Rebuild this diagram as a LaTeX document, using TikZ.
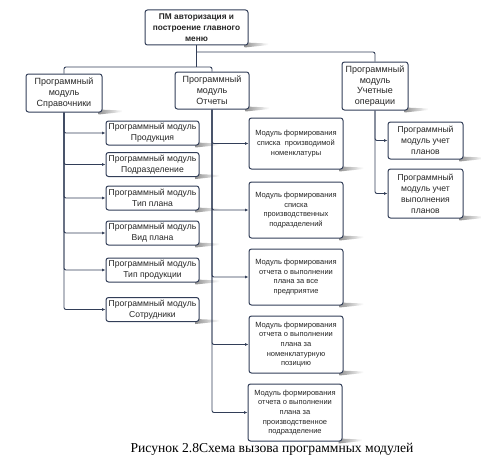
\documentclass[tikz,border=0pt]{standalone}
\usepackage{fontspec}
\setmainfont{Liberation Serif}
\setsansfont{Liberation Sans}
\usetikzlibrary{arrows.meta,backgrounds}
\definecolor{ln}{RGB}{50,62,88}
\begin{document}
\begin{tikzpicture}[x=1pt,y=-1pt,
 box/.style={draw=ln,line width=1pt,rounded corners=2.5pt,fill=white,align=center,inner sep=1pt,text=black!85},
 conn/.style={draw=ln,line width=0.9pt,rounded corners=2pt},
 arr/.style={conn,-{Latex[length=3.5pt,width=3pt]}},
 fL1/.style={font=\sffamily\fontsize{9}{10.8}\selectfont},
 fS/.style={font=\sffamily\fontsize{8.6}{10.7}\selectfont},
 fO/.style={font=\sffamily\fontsize{7.5}{9.7}\selectfont},
 fU/.style={font=\sffamily\fontsize{8.6}{11}\selectfont},
 shd/.style={left color=gray!85,right color=white,draw=none}
]
\useasboundingbox (0,0) rectangle (481,460);
% top
\node[box,minimum width=103pt,minimum height=35pt,font=\sffamily\bfseries\fontsize{8.3}{11.2}\selectfont] (top) at (196.5,27.5) {ПМ авторизация и\\построение главного\\меню};
% level 1
\node[box,fL1,minimum width=76pt,minimum height=38pt] (spr) at (64,93) {Программный\\модуль\\Справочники};
\node[box,fL1,minimum width=74pt,minimum height=37pt] (otch) at (212,90.5) {Программный\\модуль\\Отчеты};
\node[box,fL1,minimum width=66pt,minimum height=48pt] (uch) at (375,86) {Программный\\модуль\\Учетные\\операции};
% Spr children
\node[box,fS,minimum width=93pt,minimum height=24pt] (s1) at (152.5,133) {Программный модуль\\Продукция};
\node[box,fS,minimum width=93pt,minimum height=24pt] (s2) at (152.5,164.5) {Программный модуль\\Подразделение};
\node[box,fS,minimum width=93pt,minimum height=24pt] (s3) at (152.5,198) {Программный модуль\\Тип плана};
\node[box,fS,minimum width=93pt,minimum height=24pt] (s4) at (152.5,233) {Программный модуль\\Вид плана};
\node[box,fS,minimum width=93pt,minimum height=24pt] (s5) at (152.5,270) {Программный модуль\\Тип продукции};
\node[box,fS,minimum width=93pt,minimum height=24pt] (s6) at (152.5,309.5) {Программный модуль\\Сотрудники};
% Otch children
\node[box,fO,minimum width=94pt,minimum height=51pt] (o1) at (296,143.5) {Модуль формирования\\списка~ производимой\\номенклатуры};
\node[box,fO,minimum width=94pt,minimum height=56pt] (o2) at (296,210) {Модуль формирования\\списка\\производственных\\подразделений};
\node[box,fO,minimum width=94pt,minimum height=56pt] (o3) at (296,277) {Модуль формирования\\отчета о выполнении\\плана за все\\предприятие};
\node[box,fO,minimum width=94pt,minimum height=57pt] (o4) at (296,344.5) {Модуль формирования\\отчета о выполнении\\плана за\\номенклатурную\\позицию};
\node[box,fO,minimum width=94pt,minimum height=57pt] (o5) at (295,412.5) {Модуль формирования\\отчета о выполнении\\плана за\\производственное\\подразделение};
% Uch children
\node[box,fU,minimum width=75pt,minimum height=37pt] (u1) at (425.5,140.5) {Программный\\модуль учет\\планов};
\node[box,fU,minimum width=75pt,minimum height=49pt] (u2) at (425.5,193.5) {Программный\\модуль учет\\выполнения\\планов};
% caption
\node[font=\fontsize{13.6}{15}\selectfont] (cap) at (272,449) {Рисунок 2.8Схема вызова программных модулей};
% connectors
\coordinate (hA) at (196.5,67);
\coordinate (hB) at (196.5,52);
\draw[conn] (top.south) -- (hA);
\draw[conn] (spr.north) |- (hA) -| (otch.north);
\draw[conn] (hB) -| (uch.north);
\foreach \c in {s1,s2,s3,s4,s5,s6} \draw[arr] (spr.south) |- (\c.west);
\foreach \c in {o1,o2,o3,o4,o5} \draw[arr] (otch.south) |- (\c.west);
\foreach \c in {u1,u2} \draw[arr] (uch.south) |- (\c.west);
% shadows
\begin{scope}[on background layer]
\foreach \n in {top,spr,otch,uch,s1,s2,s3,s4,s5,s6,o1,o2,o3,o4,o5,u1,u2}
  \shade[shd] ([shift={(-4,-3)}]\n.south east) -- ([shift={(20,-2)}]\n.south east) -- ([shift={(20,-0.5)}]\n.south east) -- ([shift={(-4,2)}]\n.south east) -- cycle;
\end{scope}
\end{tikzpicture}
\end{document}
